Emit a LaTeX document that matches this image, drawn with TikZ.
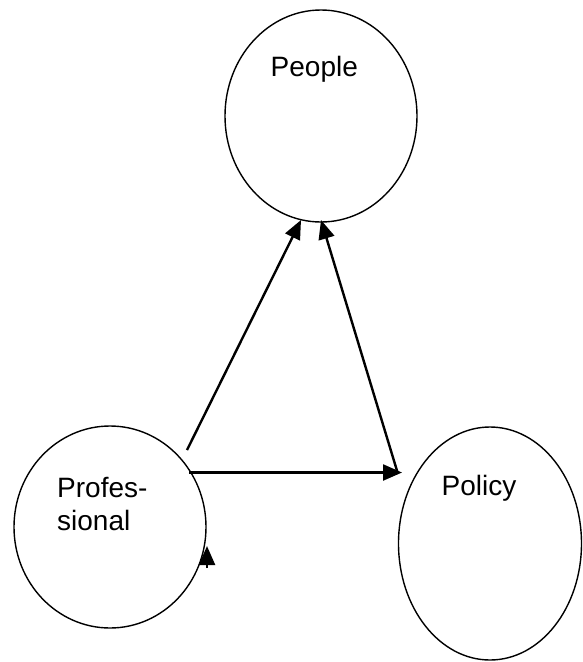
\documentclass[tikz,border=0pt]{standalone}
\usepackage{fontspec}
\setmainfont{Liberation Sans}
\usetikzlibrary{shapes.geometric,arrows.meta}
\begin{document}
\begin{tikzpicture}[x=1pt,y=-1pt,
  circ/.style={draw,ellipse,line width=1.4pt,inner sep=0pt,outer sep=0pt},
  lbl/.style={anchor=base west,inner sep=0pt,font=\fontsize{28}{33}\selectfont,align=left},
  conn/.style={line width=2.4pt,-{Triangle[length=19pt,width=16pt]}}]
\useasboundingbox (0,0) rectangle (582,662);
\node[circ,minimum width=192pt,minimum height=212pt] (people) at (321,116) {};
\node[circ,minimum width=192pt,minimum height=202pt] (prof) at (110,527) {};
\node[circ,minimum width=183pt,minimum height=233pt] (policy) at (490,543.5) {};
\node[lbl] (tpeople) at (270.5,76.7) {People};
\node[lbl,anchor=north west] (tprof) at (57,474) {\strut Profes-\\sional};
\node[lbl] (tpolicy) at (441.5,495) {Policy};
\coordinate (p1) at (187,450);
\coordinate (p2) at (301,220);
\coordinate (p3) at (398,474);
\coordinate (p4) at (321,220);
\coordinate (p5) at (189,472.5);
\coordinate (p6) at (402,472.5);
\coordinate (p7) at (207,568);
\coordinate (p8) at (207,546);
\draw[conn] (p1) -- (p2);
\draw[conn] (p3) -- (p4);
\draw[conn] (p5) -- (p6);
\draw[conn] (p7) -- (p8);
\end{tikzpicture}
\end{document}
